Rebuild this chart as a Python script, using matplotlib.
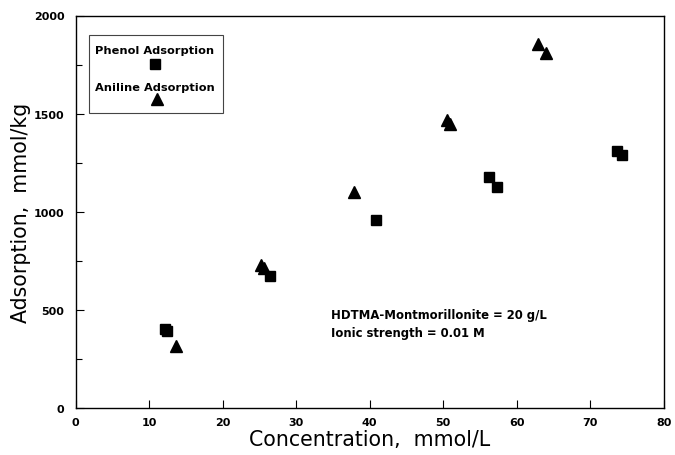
import numpy as np
import matplotlib
matplotlib.use("Agg")
import matplotlib.pyplot as plt
from matplotlib.patches import Rectangle

# data
phenol_conc = [12.1, 12.4, 26.5, 40.9, 56.3, 57.3, 73.6, 74.3]
phenol_ads = [405, 392, 675, 958, 1177, 1129, 1308, 1288]

aniline_conc = [13.7, 25.2, 25.7, 37.9, 50.5, 51.0, 62.9, 64.0]
aniline_ads = [318, 730, 712, 1100, 1466, 1449, 1855, 1808]

x_ticks = [0, 10, 20, 30, 40, 50, 60, 70, 80]
y_ticks = [0, 500, 1000, 1500, 2000]

plt.rcParams['font.family'] = ['DejaVu Sans']

fig = plt.figure(figsize=(6.75, 4.56), dpi=100)
# right edge pulled in a little so the "80" label is not clipped
ax = fig.add_axes([75.6 / 675, 1 - 409.3 / 456, 588.0 / 675, 392.8 / 456])

ax.plot(phenol_conc, phenol_ads, 's', color='black', ms=7, mec='black')
ax.plot(aniline_conc, aniline_ads, '^', color='black', ms=9, mec='black')

ax.set_xlim(0, 80)
ax.set_ylim(0, 2000)
ax.set_xticks(x_ticks)
ax.set_yticks(y_ticks)
ax.set_yticks(np.arange(250, 2000, 500), minor=True)
ax.set_xticklabels([str(v) for v in x_ticks], fontweight='bold', fontsize=8)
ax.set_yticklabels([str(v) for v in y_ticks], fontweight='bold', fontsize=8)
ax.tick_params(which='major', direction='in', length=6, width=0.8, pad=6)
ax.tick_params(which='minor', direction='in', length=4, width=0.8)
ax.tick_params(axis='y', pad=8)

for s in ax.spines.values():
    s.set_linewidth(1.0)
    s.set_color('black')

ax.set_xlabel("Concentration,  mmol/L", fontsize=14.8, labelpad=2)
ax.set_ylabel("Adsorption,  mmol/kg", fontsize=14.8, labelpad=2)

# legend box drawn by hand: label above marker
box = Rectangle((0.023, 0.751), 0.227, 0.199, transform=ax.transAxes,
                fill=False, edgecolor='#444444', linewidth=0.8)
ax.add_patch(box)
ax.text(0.135, 0.913, "Phenol Adsorption", transform=ax.transAxes,
        ha='center', va='center', fontsize=8.2, fontweight='bold')
ax.plot([0.135], [0.877], 's', color='black', ms=7, transform=ax.transAxes)
ax.text(0.135, 0.817, "Aniline Adsorption", transform=ax.transAxes,
        ha='center', va='center', fontsize=8.2, fontweight='bold')
ax.plot([0.138], [0.787], '^', color='black', ms=9, transform=ax.transAxes)

ax.text(0.435, 0.240, "HDTMA-Montmorillonite = 20 g/L", transform=ax.transAxes,
        ha='left', va='center', fontsize=8.4, fontweight='bold')
ax.text(0.435, 0.193, "Ionic strength = 0.01 M", transform=ax.transAxes,
        ha='left', va='center', fontsize=8.4, fontweight='bold')

fig.savefig("out.png", dpi=100)
